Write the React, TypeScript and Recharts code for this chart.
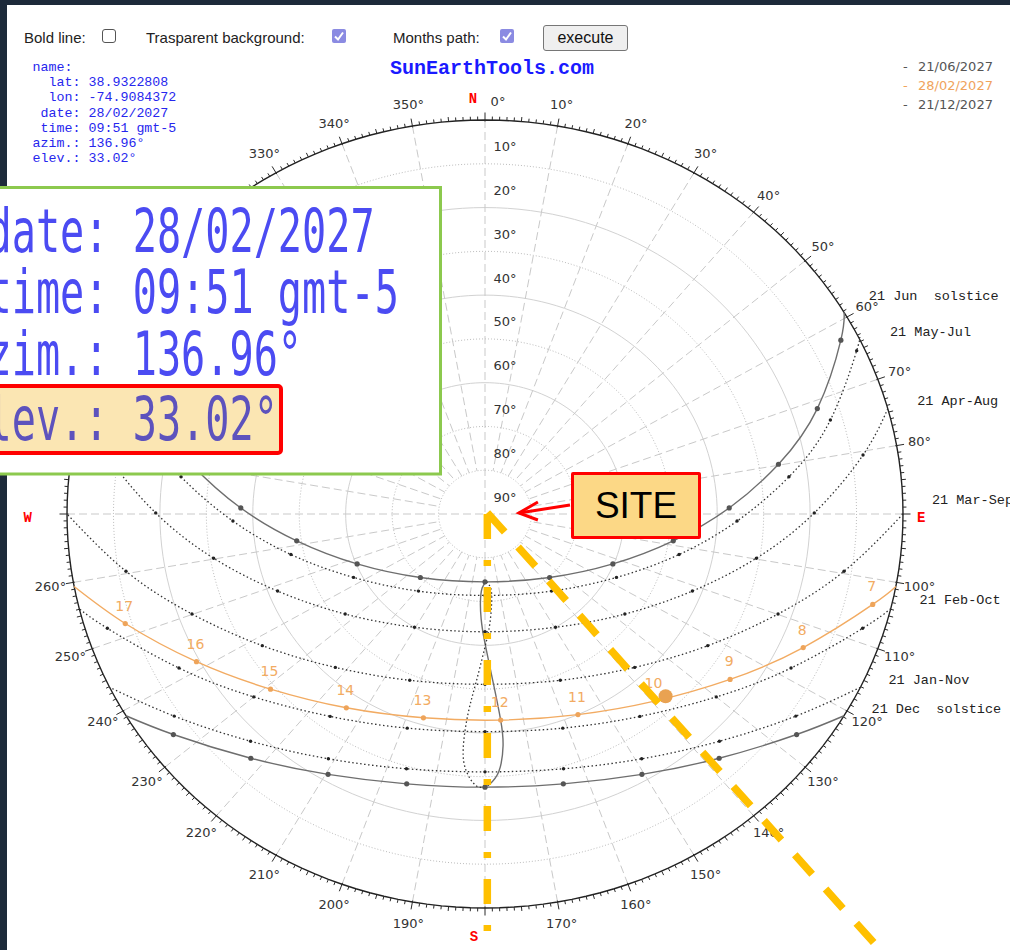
import React from 'react';
import { ComposedChart, Line, Scatter, XAxis, YAxis } from 'recharts';

// ---------------- values ----------------
// sun paths: [azimuth°, elevation°], sunrise -> hourly points -> sunset
const JUN_21 = [[59.2,0],[62.6,3.7],[71.4,14.5],[79.8,25.8],[88.5,37.4],[98.6,49.0],[112.5,60.2],[136.2,69.9],[180,74.5],[223.8,69.9],[247.5,60.2],[261.4,49.0],[271.5,37.4],[280.2,25.8],[288.6,14.5],[297.4,3.7],[300.8,0]];
const MAY_JUL = [[63.5,0],[65.0,1.7],[73.9,12.6],[82.6,24.0],[91.7,35.7],[102.5,47.2],[117.1,58.2],[140.9,67.3],[180,71.4],[219.1,67.3],[242.9,58.2],[257.5,47.2],[268.3,35.7],[277.4,24.0],[286.1,12.6],[295.0,1.7],[296.5,0]];
const APR_AUG = [[74.5,0],[80.6,7.5],[89.8,19.1],[99.8,30.7],[111.5,42.0],[127.2,52.2],[149.6,60.0],[180,63.1],[210.4,60.0],[232.8,52.2],[248.5,42.0],[260.2,30.7],[270.2,19.1],[279.4,7.5],[285.5,0]];
const MAR_SEP = [[90,0],[99.6,11.6],[109.9,22.9],[122.1,33.4],[137.4,42.4],[156.9,48.7],[180,51.1],[203.1,48.7],[222.6,42.4],[237.9,33.4],[250.1,22.9],[260.4,11.6],[270,0]];
const FEB_OCT = [[103.9,0],[107.8,4.6],[118.1,15.3],[130.0,25.0],[144.2,33.0],[161.1,38.3],[180,40.3],[198.9,38.3],[215.8,33.0],[230.0,25.0],[241.9,15.3],[252.2,4.6],[256.1,0]];
const JAN_NOV = [[116.1,0],[124.6,8.7],[135.8,17.6],[148.9,24.7],[163.8,29.4],[180,31.1],[196.2,29.4],[211.1,24.7],[224.2,17.6],[235.4,8.7],[243.9,0]];
const DEC_21 = [[120.8,0],[126.9,6.1],[137.9,14.8],[150.4,21.6],[164.7,26.1],[180,27.6],[195.3,26.1],[209.6,21.6],[222.1,14.8],[233.1,6.1],[239.2,0]];
const FEB_28 = [[100.6,0],[103.9,4.0],[114.0,15.0],[125.6,25.1],[139.5,33.8],[156.4,40.0],[175.9,42.8],[195.9,41.6],[214.0,36.6],[229.1,28.9],[241.5,19.3],[252.1,8.6],[259.4,0]];
const FEB_28_HOURS = ['', '7', '8', '9', '10', '11', '12', '13', '14', '15', '16', '17', ''];
const SUN_NOW = [[136.96, 33.02]];
// 12:00 analemma, Jan 1 -> Jun 21 (solid) and Jun 21 -> Jan 1 (dotted)
const ANALEMMA_A = [[179.2,28.1],[177.1,31.1],[175.8,36.9],[175.9,42.8],[177.3,51.1],[180.2,61.0],[182.0,66.1],[182.8,69.8],[182.1,73.1],[178.9,74.5]];
const ANALEMMA_B = [[178.9,74.5],[176.1,73.3],[175.7,70.6],[177.6,65.0],[180.1,59.4],[182.9,51.4],[184.6,44.1],[185.0,36.1],[183.9,31.1],[182.0,28.1],[180.6,27.6],[179.2,28.1]];

const DAY_LABELS = ['21 Jun  solstice', '21 May-Jul', '21 Apr-Aug', '21 Mar-Sep', '21 Feb-Oct', '21 Jan-Nov', '21 Dec  solstice'];
const DAY_LABEL_AZ = [58.1, 64.1, 74.7, 89.4, 104.0, 116.4, 121.2];

const AZ_TICK_LABELS = [10,20,30,40,50,60,70,80,100,110,120,130,140,150,160,170,190,200,210,220,230,240,250,260,280,290,300,310,320,330,340,350];
const CARDINALS = [['N', 0], ['E', 90], ['S', 180], ['W', 270]];
const ELEV_RINGS_SOLID = [20, 40, 60];
const ELEV_RINGS_DOTTED = [10, 30, 50, 70, 80];
const ELEV_LABELS = [10, 20, 30, 40, 50, 60, 70, 80, 90];

const LEGEND_DATES = ['21/06/2027', '28/02/2027', '21/12/2027'];
const INFO_LABELS = ['name:', 'lat:', 'lon:', 'date:', 'time:', 'azim.:', 'elev.:'];
const INFO_VALUES = ['', '38.9322808', '-74.9084372', '28/02/2027', '09:51 gmt-5', '136.96°', '33.02°'];
const TITLE = 'SunEarthTools.com';
const CONTROLS = ['Bold line:', 'Trasparent background:', 'Months path:'];
const CONTROL_CHECKED = [false, true, true];

// ---------------- geometry / scales ----------------
const W = 1010;
const H = 950;
const CX = 485, CY = 514, RX = 418, RY = 394;
const KX = RX / 90, KY = RY / 90;
const X_DOMAIN = [-CX / KX, (W - CX) / KX];
const Y_DOMAIN = [(CY - H) / KY, CY / KY];
const rad = Math.PI / 180;

const proj = (az: number, el: number) => ({ x: (90 - el) * Math.sin(az * rad), y: (90 - el) * Math.cos(az * rad) });
const toPts = (arr: number[][], labels?: string[]) =>
  arr.map(([az, el], i) => ({ ...proj(az, el), az, el, i, n: arr.length, label: labels ? labels[i] : '' }));

const ringPts = (els: number[]) => {
  const out: any[] = [];
  els.forEach((e) => {
    for (let a = 0; a <= 360; a += 2) out.push(proj(a, e));
    out.push({ x: 0, y: null });
  });
  return out;
};
const radialPts = () => {
  const out: any[] = [];
  for (let a = 10; a < 360; a += 10) {
    if (a % 90 === 0) continue;
    out.push(proj(a, 0), proj(a, 80), { x: 0, y: null });
  }
  out.push(proj(0, 0), proj(180, 0), { x: 0, y: null }, proj(90, 0), proj(270, 0));
  return out;
};
const tickPts = () => {
  const out: any[] = [];
  for (let a = 0; a < 360; a += 1) out.push({ ...proj(a, 0), az: a });
  return out;
};

const FONT_SANS = '"DejaVu Sans", Verdana, sans-serif';
const FONT_MONO = '"Liberation Mono", "DejaVu Sans Mono", monospace';

const GRID = '#c9c9c9';
const ORANGE = '#f2ab62';

// ---------------- shapes ----------------
const tickShape = (p: any) => {
  const az = p.payload.az;
  const ux = Math.sin(az * rad) * KX, uy = -Math.cos(az * rad) * KY;
  const n = Math.hypot(ux, uy);
  const dx = ux / n, dy = uy / n;
  const major = az % 10 === 0, mid = az % 5 === 0;
  const out = major ? 7.5 : mid ? 4.5 : 3.5;
  const inn = major ? 1.5 : 0;
  return <line x1={p.cx - dx * inn} y1={p.cy - dy * inn} x2={p.cx + dx * out} y2={p.cy + dy * out} stroke="#2a2a2a" strokeWidth={1} />;
};

const azLabelShape = (p: any) => (
  <text x={p.cx} y={p.cy} textAnchor="middle" dominantBaseline="central" fontFamily={FONT_SANS} fontSize={13} fill="#333">
    {p.payload.az}°
  </text>
);

const CARD_OFFSET: Record<string, [number, number]> = { N: [-12, 1], E: [-5, 4], S: [-11, 7], W: [-16, 4] };
const cardinalShape = (p: any) => {
  const l = p.payload.label;
  const [dx, dy] = CARD_OFFSET[l];
  return (
    <g>
      <text x={p.cx + dx} y={p.cy + dy} textAnchor="middle" dominantBaseline="central" fontFamily={FONT_MONO} fontWeight="bold" fontSize={14} fill="#ff0000">
        {l}
      </text>
      {l === 'N' ? (
        <text x={p.cx + 13} y={p.cy + 3} textAnchor="middle" dominantBaseline="central" fontFamily={FONT_SANS} fontSize={13} fill="#333">0°</text>
      ) : null}
    </g>
  );
};

const elevLabelShape = (p: any) => (
  <text x={p.cx + 20} y={p.cy - 17} textAnchor="middle" dominantBaseline="central" fontFamily={FONT_SANS} fontSize={13} fill="#333">
    {p.payload.el}°
  </text>
);

const dayLabelShape = (p: any) => (
  <text x={p.cx + 29} y={p.cy - 9} dominantBaseline="central" fontFamily={FONT_MONO} fontSize={13.5} fill="#222" style={{ whiteSpace: 'pre' }}>
    {p.payload.label}
  </text>
);

const hourLabelShape = (p: any) =>
  p.payload.label ? (
    <text x={p.cx - 1} y={p.cy - 18} textAnchor="middle" dominantBaseline="central" fontFamily={FONT_SANS} fontSize={14} fill={ORANGE}>
      {p.payload.label}
    </text>
  ) : (
    <g />
  );

const mkDot = (r: number, fill: string) => (p: any) => {
  const { cx, cy, payload, index } = p;
  if (cx == null || cy == null || payload.i === 0 || payload.i === payload.n - 1) return <g key={`e${index}`} />;
  return <circle key={`d${index}`} cx={cx} cy={cy} r={r} fill={fill} />;
};

const sunShape = (p: any) => <circle cx={p.cx} cy={p.cy} r={7} fill="#e9a252" />;

const arrowDot = (p: any) => {
  const { cx, cy, index } = p;
  if (index !== 1) return <g key={`a${index}`} />;
  return (
    <polyline key={`a${index}`} points={`${cx + 19},${cy - 11} ${cx},${cy} ${cx + 19},${cy + 7}`} fill="none" stroke="#ff0000" strokeWidth={3} strokeLinejoin="miter" />
  );
};

// annotation overlay (data units of the same axes)
const SITE_LINE = [{ x: 0.5, y: 0 }, { x: 0.5, y: -101 }];
const AZIM_LINE = [{ x: 0.5, y: 0.3 }, { x: 88, y: -103 }];
const SITE_ARROW = [{ x: 18.3, y: 2.06 }, { x: 7.3, y: 0.23 }];

export default function App() {
  const paths = [
    { d: JUN_21, solid: true },
    { d: MAY_JUL, solid: false },
    { d: APR_AUG, solid: false },
    { d: MAR_SEP, solid: false },
    { d: FEB_OCT, solid: false },
    { d: JAN_NOV, solid: false },
    { d: DEC_21, solid: true },
  ];
  const dayLabelPts = DAY_LABELS.map((l, i) => ({ ...proj(DAY_LABEL_AZ[i], 0), label: l }));
  const azLabelPts = AZ_TICK_LABELS.map((a) => ({ ...proj(a, -5), az: a }));
  const cardPts = CARDINALS.map(([l, a]) => ({ ...proj(a as number, -5), label: l }));
  const elevPts = ELEV_LABELS.map((e) => ({ ...proj(0, e), el: e }));

  const axes = [
    <XAxis key="xa" type="number" dataKey="x" domain={X_DOMAIN} allowDataOverflow hide />,
    <YAxis key="ya" type="number" dataKey="y" domain={Y_DOMAIN} allowDataOverflow hide width={0} />,
  ];

  return (
    <div style={{ position: 'absolute', left: 0, top: 0, width: W, height: H, background: '#1d2a3a', overflow: 'hidden' }}>
      <div style={{ position: 'absolute', left: 7, top: 5, width: W - 7, height: H - 5, background: '#ffffff' }} />

      {/* top controls */}
      <div style={{ position: 'absolute', left: 0, top: 0, width: W, height: 60, fontFamily: '"Liberation Sans", Arial, sans-serif', fontSize: 15, color: '#222' }}>
        {CONTROLS.map((c, i) => {
          const tx = [24, 146, 393][i];
          const bx = [102, 332, 500][i];
          return (
            <React.Fragment key={c}>
              <span style={{ position: 'absolute', left: tx, top: 29, lineHeight: '18px', whiteSpace: 'nowrap' }}>{c}</span>
              {CONTROL_CHECKED[i] ? (
                <svg style={{ position: 'absolute', left: bx, top: 29 }} width={14} height={14}>
                  <rect x={0} y={0} width={14} height={14} rx={2} fill="#8b8be2" />
                  <polyline points="3,7.5 6,10.5 11,3.5" fill="none" stroke="#fff" strokeWidth={2} />
                </svg>
              ) : (
                <div style={{ position: 'absolute', left: bx, top: 29, width: 12, height: 12, border: '1px solid #555', borderRadius: 3, background: '#fff' }} />
              )}
            </React.Fragment>
          );
        })}
        <div style={{ position: 'absolute', left: 543, top: 25, width: 83, height: 24, border: '1px solid #767676', borderRadius: 3, background: '#efefef', fontSize: 16, lineHeight: '24px', textAlign: 'center', color: '#111' }}>execute</div>
      </div>

      {/* main chart */}
      <div style={{ position: 'absolute', left: 0, top: 0 }}>
        <ComposedChart width={W} height={H} margin={{ top: 0, right: 0, bottom: 0, left: 0 }}>
          {axes}
          <Line data={ringPts(ELEV_RINGS_SOLID)} dataKey="y" type="linear" stroke="#d2d2d2" strokeWidth={1} dot={false} activeDot={false} isAnimationActive={false} />
          <Line data={ringPts(ELEV_RINGS_DOTTED)} dataKey="y" type="linear" stroke="#bdbdbd" strokeWidth={1} strokeDasharray="1 2" dot={false} activeDot={false} isAnimationActive={false} />
          <Line data={radialPts()} dataKey="y" type="linear" stroke={GRID} strokeWidth={1} strokeDasharray="8 4" dot={false} activeDot={false} isAnimationActive={false} />
          <Line data={ringPts([0])} dataKey="y" type="linear" stroke="#222" strokeWidth={1.4} dot={false} activeDot={false} isAnimationActive={false} />
          {paths.map((p, k) => (
            <Line
              key={`p${k}`}
              data={toPts(p.d)}
              dataKey="y"
              type="natural"
              stroke={p.solid ? '#6e6e6e' : '#333'}
              strokeWidth={p.solid ? 1.4 : 1.3}
              strokeDasharray={p.solid ? undefined : '1.5 2.5'}
              dot={mkDot(p.solid ? 2.6 : 1.7, p.solid ? '#555' : '#222')}
              activeDot={false}
              isAnimationActive={false}
            />
          ))}
          <Line data={toPts(ANALEMMA_A)} dataKey="y" type="natural" stroke="#6e6e6e" strokeWidth={1.4} dot={false} activeDot={false} isAnimationActive={false} />
          <Line data={toPts(ANALEMMA_B)} dataKey="y" type="natural" stroke="#333" strokeWidth={1.3} strokeDasharray="1.5 2.5" dot={false} activeDot={false} isAnimationActive={false} />
          <Line data={toPts(FEB_28, FEB_28_HOURS)} dataKey="y" type="natural" stroke={ORANGE} strokeWidth={1.4} dot={mkDot(2.6, '#eea45a')} activeDot={false} isAnimationActive={false} />
          <Scatter data={tickPts()} dataKey="y" shape={tickShape} isAnimationActive={false} />
          <Scatter data={azLabelPts} dataKey="y" shape={azLabelShape} isAnimationActive={false} />
          <Scatter data={cardPts} dataKey="y" shape={cardinalShape} isAnimationActive={false} />
          <Scatter data={elevPts} dataKey="y" shape={elevLabelShape} isAnimationActive={false} />
          <Scatter data={dayLabelPts} dataKey="y" shape={dayLabelShape} isAnimationActive={false} />
          <Scatter data={toPts(FEB_28, FEB_28_HOURS)} dataKey="y" shape={hourLabelShape} isAnimationActive={false} />
          <Scatter data={toPts(SUN_NOW)} dataKey="y" shape={sunShape} isAnimationActive={false} />
        </ComposedChart>
      </div>

      {/* texts around the chart */}
      <svg style={{ position: 'absolute', left: 0, top: 0 }} width={W} height={H}>
        <text x={492} y={74} textAnchor="middle" fontFamily={FONT_MONO} fontWeight="bold" fontSize={20} fill="#1a1aff">{TITLE}</text>
        {INFO_LABELS.map((l, i) => (
          <React.Fragment key={l}>
            <text x={i === 0 ? 72.5 : 80.5} y={71 + i * 15.2} textAnchor="end" fontFamily={FONT_MONO} fontSize={13.3} fill="#2626ee">{l}</text>
            <text x={88.5} y={71 + i * 15.2} fontFamily={FONT_MONO} fontSize={13.3} fill="#2626ee">{INFO_VALUES[i]}</text>
          </React.Fragment>
        ))}
        {LEGEND_DATES.map((d, i) => (
          <React.Fragment key={d}>
            <text x={903} y={70.5 + i * 19} fontFamily={FONT_SANS} fontSize={13} fill={i === 1 ? '#f0a35c' : '#555'}>-</text>
            <text x={918} y={70.5 + i * 19} fontFamily={FONT_SANS} fontSize={13} fill={i === 1 ? '#f0a35c' : '#555'}>{d}</text>
          </React.Fragment>
        ))}
      </svg>

      {/* annotation overlay */}
      <div style={{ position: 'absolute', left: 0, top: 0 }}>
        <ComposedChart width={W} height={H} margin={{ top: 0, right: 0, bottom: 0, left: 0 }}>
          {axes}
          <Line data={SITE_LINE} dataKey="y" type="linear" stroke="#ffc000" strokeWidth={7.5} strokeDasharray="25 21 6 21" dot={false} activeDot={false} isAnimationActive={false} />
          <Line data={AZIM_LINE} dataKey="y" type="linear" stroke="#ffc000" strokeWidth={7.5} strokeDasharray="26 20" dot={false} activeDot={false} isAnimationActive={false} />
          <Line data={SITE_ARROW} dataKey="y" type="linear" stroke="#ff0000" strokeWidth={3} dot={arrowDot} activeDot={false} isAnimationActive={false} />
        </ComposedChart>
      </div>

      {/* SITE callout */}
      <div style={{ position: 'absolute', left: 571, top: 472, width: 124, height: 61, border: '3px solid #ff0000', borderRadius: 2, background: '#fcd886', fontFamily: '"Liberation Sans", Arial, sans-serif', fontSize: 37, lineHeight: '61px', textAlign: 'center', color: '#000' }}>SITE</div>

      {/* magnified info inset */}
      <svg style={{ position: 'absolute', left: 0, top: 0 }} width={W} height={H}>
        <rect x={-4} y={187.5} width={444.5} height={286.5} fill="#fff" stroke="#8cc94e" strokeWidth={3} />
        <rect x={-4} y={386} width={285} height={67} rx={3} fill="#fbe6b3" stroke="#ff0000" strokeWidth={4} />
        {[3, 4, 5, 6].map((k, j) => {
          const base = [252, 313, 375, 440][j];
          const pad = INFO_LABELS[k].length + 1;
          return (
            <text
              key={k}
              transform={`translate(${132.7 - pad * 24.2},${base}) scale(1,1.5)`}
              fontFamily='"DejaVu Sans Mono", monospace'
              fontSize={40.2}
              fill={k === 6 ? '#5d52bd' : '#4b4bf2'}
              style={{ whiteSpace: 'pre' }}
            >
              {`${INFO_LABELS[k]} ${INFO_VALUES[k]}`}
            </text>
          );
        })}
      </svg>
    </div>
  );
}
